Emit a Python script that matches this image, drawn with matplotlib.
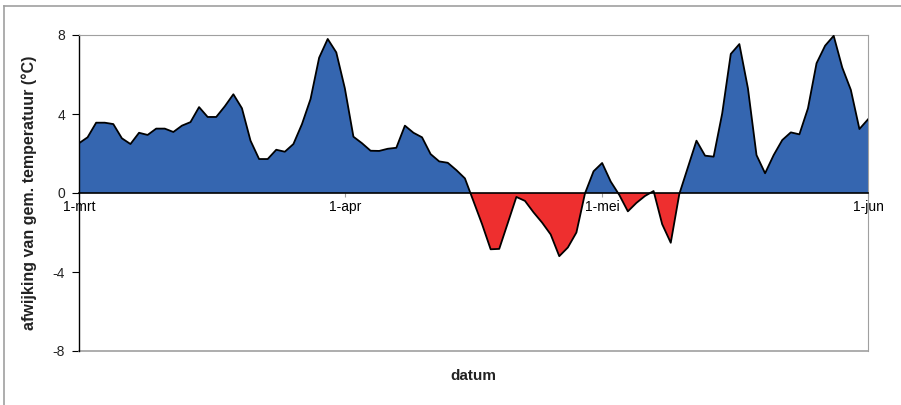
import matplotlib
matplotlib.use("Agg")
import matplotlib.pyplot as plt
from matplotlib.lines import Line2D
import numpy as np

# dagelijkse afwijking t.o.v. gemiddelde temperatuur, 1 maart t/m 1 juni
afwijking = [
    2.52, 2.82, 3.56, 3.56, 3.49, 2.77, 2.48, 3.05, 2.94, 3.26,
    3.26, 3.09, 3.41, 3.59, 4.35, 3.85, 3.85, 4.39, 5.00, 4.29,
    2.65, 1.72, 1.72, 2.19, 2.09, 2.48, 3.49, 4.76, 6.85, 7.80,
    7.12, 5.30, 2.85, 2.52, 2.14, 2.13, 2.24, 2.29, 3.41, 3.05,
    2.82, 1.97, 1.60, 1.53, 1.16, 0.74, -0.42, -1.58, -2.85, -2.83,
    -1.52, -0.20, -0.40, -0.98, -1.50, -2.10, -3.20, -2.76, -2.00, -0.02,
    1.10, 1.52, 0.58, -0.10, -0.93, -0.50, -0.15, 0.10, -1.58, -2.52,
    -0.05, 1.30, 2.65, 1.89, 1.84, 4.03, 7.04, 7.54, 5.30, 1.92,
    1.00, 1.92, 2.68, 3.07, 2.97, 4.29, 6.57, 7.46, 7.96, 6.35,
    5.22, 3.24, 3.73,
]
tick_dagen = [0, 31, 61, 92]
tick_labels = ["1-mrt", "1-apr", "1-mei", "1-jun"]
y_ticks = [-8, -4, 0, 4, 8]

plt.rcParams["font.family"] = ["Liberation Sans", "DejaVu Sans"]

dagen = np.arange(len(afwijking))
waarden = np.array(afwijking)

fig = plt.figure(figsize=(9.01, 4.05), dpi=100)
ax = fig.add_axes([79 / 901, 1 - 351 / 405, 789 / 901, 316 / 405])

blauw = "#3566b0"
rood = "#ee2f2f"
ax.fill_between(dagen, waarden, 0, where=waarden >= 0, interpolate=True,
                color=blauw, linewidth=0)
ax.fill_between(dagen, waarden, 0, where=waarden <= 0, interpolate=True,
                color=rood, linewidth=0)
ax.plot(dagen, waarden, color="black", linewidth=1.3, zorder=3)

ax.set_xlim(0, 92)
ax.set_ylim(-8, 8)
ax.set_yticks(y_ticks)
ax.set_yticklabels([str(t) for t in y_ticks], fontsize=10, color="#222222")
ax.set_xticks(tick_dagen)
ax.set_xticklabels(tick_labels, fontsize=10, color="#222222")

grijs = "#a0a0a0"
ax.spines["bottom"].set_position(("data", 0))
ax.spines["bottom"].set_color("black")
ax.spines["bottom"].set_linewidth(1.2)
ax.spines["bottom"].set_zorder(4)
ax.spines["left"].set_color("black")
ax.spines["left"].set_linewidth(1.0)
ax.spines["top"].set_color(grijs)
ax.spines["right"].set_color(grijs)
ax.axhline(-8, color=grijs, linewidth=1.2, clip_on=False)

ax.tick_params(axis="x", direction="out", length=3, color=grijs, pad=2)
ax.tick_params(axis="y", direction="out", length=5, color="black", pad=5)

ax.set_ylabel("afwijking van gem. temperatuur (°C)", fontsize=11.5,
              fontweight="bold", color="#222222")
ax.yaxis.set_label_coords((37 - 79) / 789, 0.5)
fig.text(473.5 / 901, 1 - 376 / 405, "datum", fontsize=11, fontweight="bold",
         color="#222222", ha="center", va="center")

# kader rond de grafiek
fig.add_artist(Line2D([4 / 901, 4 / 901], [0, 1 - 6 / 405],
                      color=grijs, linewidth=1.2, transform=fig.transFigure))
fig.add_artist(Line2D([4 / 901, 1], [1 - 6 / 405, 1 - 6 / 405],
                      color=grijs, linewidth=1.2, transform=fig.transFigure))

fig.savefig("out.png", dpi=100)
